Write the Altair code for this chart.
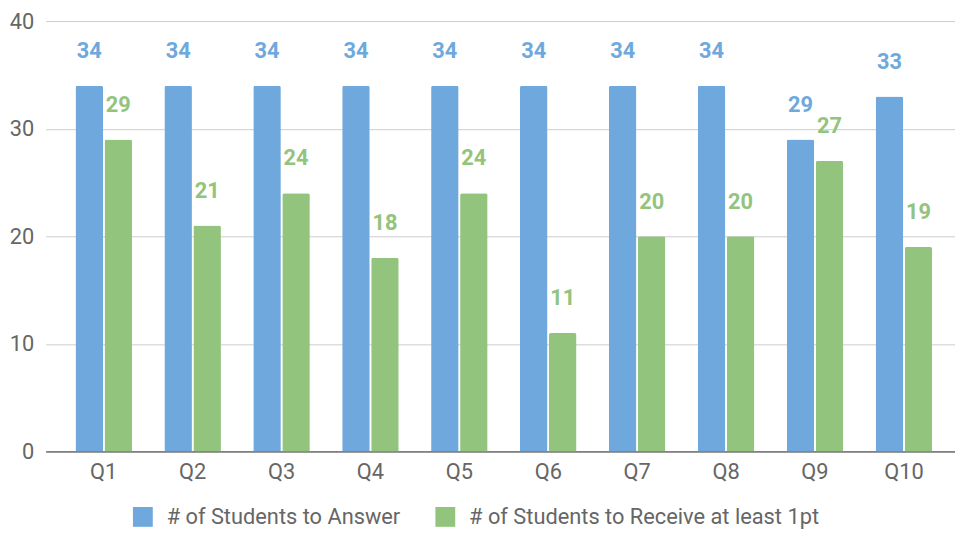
import altair as alt
import pandas as pd

questions = ["Q1", "Q2", "Q3", "Q4", "Q5", "Q6", "Q7", "Q8", "Q9", "Q10"]
answered = [34, 34, 34, 34, 34, 34, 34, 34, 29, 33]
received = [29, 21, 24, 18, 24, 11, 20, 20, 27, 19]
series_names = ["# of Students to Answer", "# of Students to Receive at least 1pt"]
series_colors = ["#6fa8dc", "#93c47d"]

rows = []
for q, a, r in zip(questions, answered, received):
    rows.append({"q": q, "series": series_names[0], "value": a})
    rows.append({"q": q, "series": series_names[1], "value": r})
df = pd.DataFrame(rows)

FONT = "Roboto"
GRAY = "#666666"

x_enc = alt.X("q:N", sort=questions, title=None,
              scale=alt.Scale(paddingInner=0.364, paddingOuter=0.296, align=0.566),
              axis=alt.Axis(labelAngle=0, labelFontSize=22, labelColor=GRAY, labelFont=FONT,
                            labelPadding=10, ticks=False, domainColor="#333333", domainWidth=1,
                            grid=False))
xo_enc = alt.XOffset("series:N", sort=series_names, scale=alt.Scale(paddingInner=0.05))
y_enc = alt.Y("value:Q", title=None,
              scale=alt.Scale(domain=[0, 40]),
              axis=alt.Axis(values=[0, 10, 20, 30, 40], labelFontSize=22, labelColor=GRAY,
                            labelFont=FONT, labelPadding=12, domain=False, ticks=False,
                            gridColor="#cccccc", gridWidth=1))
color_enc = alt.Color("series:N", sort=series_names,
                      scale=alt.Scale(domain=series_names, range=series_colors),
                      legend=alt.Legend(title=None, orient="none", direction="horizontal",
                                        legendX=87, legendY=489,
                                        symbolType="square", symbolSize=400, symbolStrokeWidth=0,
                                        labelFontSize=22, labelColor=GRAY, labelFont=FONT,
                                        labelLimit=0, labelOffset=13, columnPadding=34))

bars = alt.Chart(df).mark_bar(cornerRadiusTopLeft=2, cornerRadiusTopRight=2).encode(
    x=x_enc, xOffset=xo_enc, y=y_enc, color=color_enc
)
labels = alt.Chart(df).mark_text(font=FONT, fontSize=22, fontWeight="bold", dy=-28,
                                 baseline="alphabetic", align="center").encode(
    x=x_enc, xOffset=xo_enc, y=y_enc, color=alt.Color("series:N", sort=series_names,
                                                      scale=alt.Scale(domain=series_names, range=series_colors),
                                                      legend=None),
    text=alt.Text("value:Q")
)

chart = alt.layer(bars, labels).properties(
    width=917, height=434,
    autosize=alt.AutoSizeParams(type="none"),
    padding={"left": 38, "top": 11, "right": 0, "bottom": 76},
).configure_view(stroke=None)

chart.save("out.html", embed_options={"renderer": "svg", "actions": False})
